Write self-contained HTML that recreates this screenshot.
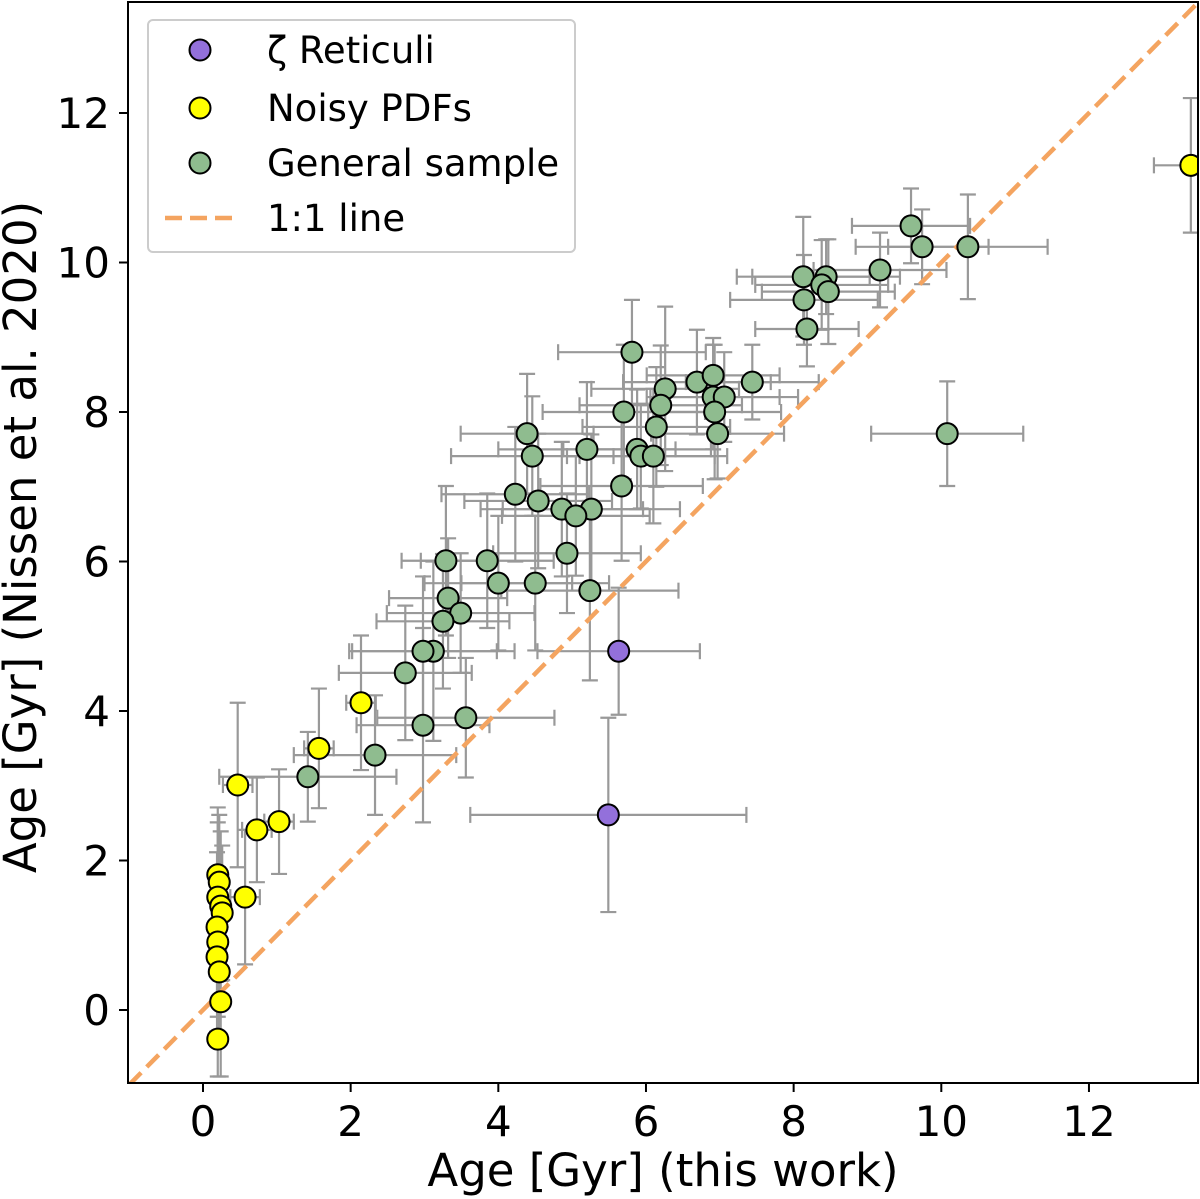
<!DOCTYPE html>
<html><head><meta charset="utf-8"><style>
body{margin:0;background:#fff}
svg{display:block;font-family:"DejaVu Sans","Liberation Sans",sans-serif}
</style></head><body>
<svg id="chart" width="1200" height="1199" viewBox="0 0 1200 1199"></svg>
<script>
const genX=[9.59,9.74,10.36,9.17,8.13,8.44,8.38,8.47,8.14,8.18,5.81,7.44,6.69,6.91,6.26,6.91,7.06,6.20,5.70,6.93,6.14,6.97,10.08,4.39,5.20,5.88,4.46,5.93,6.10,5.67,4.23,4.54,4.86,5.26,5.05,4.93,3.29,3.85,4.00,4.50,5.24,3.32,3.49,3.25,3.12,2.98,2.74,3.56,2.98,2.33,1.42];
const genY=[10.49,10.21,10.21,9.90,9.81,9.81,9.70,9.61,9.50,9.11,8.80,8.40,8.40,8.49,8.31,8.20,8.20,8.09,8.00,8.00,7.80,7.71,7.71,7.71,7.50,7.50,7.41,7.41,7.41,7.01,6.90,6.81,6.70,6.70,6.61,6.11,6.01,6.01,5.71,5.71,5.61,5.51,5.31,5.20,4.80,4.80,4.51,3.91,3.81,3.41,3.12];
const genXerr=[0.8,0.9,1.08,0.9,0.9,1.0,0.9,0.9,1.0,0.7,1.0,0.9,1.0,0.9,1.0,0.9,1.0,1.1,1.1,0.9,1.0,0.9,1.03,0.9,1.2,1.0,1.1,1.0,1.0,1.1,1.0,1.0,1.1,1.2,1.0,1.0,0.6,0.9,1.0,1.0,1.2,0.8,1.0,0.9,1.1,1.0,0.9,1.2,0.9,1.1,1.2];
const genYerr=[0.5,0.5,0.7,0.5,0.8,0.5,0.6,0.7,0.6,0.5,0.7,0.5,0.7,0.5,1.1,0.7,0.6,0.8,0.9,0.9,0.8,0.6,0.7,0.8,0.9,0.8,0.8,0.7,0.9,1.0,0.9,0.9,0.9,1.0,0.8,0.8,1.0,0.9,0.9,0.9,1.2,0.8,0.8,0.9,1.2,1.0,0.9,0.8,1.3,0.8,0.6];
const purX=[5.63,5.49], purY=[4.80,2.61], purXerr=[1.1,1.87], purYerr=[0.85,1.3];
const yelX=[13.38,2.14,1.57,0.47,1.03,0.73,0.57,0.20,0.22,0.20,0.24,0.26,0.19,0.20,0.19,0.22,0.24,0.20];
const yelY=[11.30,4.11,3.50,3.01,2.52,2.41,1.51,1.81,1.71,1.51,1.39,1.30,1.11,0.91,0.71,0.51,0.11,-0.39];
const yelXerr=[0.5,0.2,0.2,0.2,0.2,0.2,0.2,0.05,0.05,0.05,0.05,0.05,0.05,0.05,0.05,0.05,0.05,0.05];
const yelYerr=[0.9,0.9,0.8,1.1,0.7,0.7,0.9,0.9,0.9,1.0,1.0,0.9,1.0,1.0,1.0,0.9,1.0,0.5];
const xTicks=[0,2,4,6,8,10,12], yTicks=[0,2,4,6,8,10,12];
const L=128,R=1198,T=2,B=1083;
const X=v=>203+v*73.83, Y=v=>1010-v*74.75;
const svg=document.getElementById('chart'), NS='http://www.w3.org/2000/svg';
function mk(tag,attrs,parent){const e=document.createElementNS(NS,tag);for(const k in attrs)e.setAttribute(k,attrs[k]);(parent||svg).appendChild(e);return e;}
const defs=mk('defs',{});const cp=mk('clipPath',{id:'pc'},defs);mk('rect',{x:L,y:T,width:R-L,height:B-T},cp);
const plot=mk('g',{'clip-path':'url(#pc)'});


function errs(xs,ys,xe,ye,name){const g=mk('g',{stroke:'#999','stroke-width':2.2},plot);


xs.forEach((x,i)=>{const cx=X(x),cy=Y(ys[i]),x1=X(x-xe[i]),x2=X(x+xe[i]),y1=Y(ys[i]+ye[i]),y2=Y(ys[i]-ye[i]);
mk('line',{x1:x1,x2:x2,y1:cy,y2:cy},g);mk('line',{x1:cx,x2:cx,y1:y1,y2:y2},g);
[x1,x2].forEach(v=>mk('line',{x1:v,x2:v,y1:cy-8,y2:cy+8},g));[y1,y2].forEach(v=>mk('line',{x1:cx-8,x2:cx+8,y1:v,y2:v},g));});}
errs(genX,genY,genXerr,genYerr,'general');errs(purX,purY,purXerr,purYerr,'reticuli');errs(yelX,yelY,yelXerr,yelYerr,'noisy');
const dl=mk('line',{x1:X(-1),y1:Y(-1),x2:X(14),y2:Y(14),stroke:'#f4a460','stroke-width':4.5,'stroke-dasharray':'17 8'},plot);


function pts(xs,ys,col,name){xs.forEach((x,i)=>{const c=mk('circle',{cx:X(x),cy:Y(ys[i]),r:10.5,fill:col,stroke:'#000','stroke-width':2},plot);

});}
pts(genX,genY,'#8fbc8f','general');pts(purX,purY,'#9370db','reticuli');pts(yelX,yelY,'#ffff00','noisy');
mk('rect',{x:L,y:T,width:R-L,height:B-T,fill:'none',stroke:'#000','stroke-width':2});
xTicks.forEach(t=>{mk('line',{x1:X(t),x2:X(t),y1:B,y2:B+9,stroke:'#000','stroke-width':2});
const tx=mk('text',{x:X(t),y:1136,'font-size':42,'text-anchor':'middle'});tx.textContent=t;

});
yTicks.forEach(t=>{mk('line',{x1:L-9,x2:L,y1:Y(t),y2:Y(t),stroke:'#000','stroke-width':2});
const tx=mk('text',{x:110,y:Y(t)+15,'font-size':42,'text-anchor':'end'});tx.textContent=t;

});
</script>
<svg style="position:absolute;left:0;top:0" width="1200" height="1199" font-family="DejaVu Sans, Liberation Sans, sans-serif">
<text x="663" y="1186" font-size="45" text-anchor="middle">Age [Gyr] (this work)</text>
<text transform="translate(36,537) rotate(-90)" font-size="45" text-anchor="middle">Age [Gyr] (Nissen et al. 2020)</text>
<g>
<rect x="148" y="20" width="427" height="232" rx="5" fill="#fff" fill-opacity="0.85" stroke="#ccc" stroke-width="2"/>
<circle cx="200" cy="50" r="10.5" fill="#9370db" stroke="#000" stroke-width="2"/>
<text x="267" y="63" font-size="37">ζ Reticuli</text>
<circle cx="200" cy="108" r="10.5" fill="#ffff00" stroke="#000" stroke-width="2"/>
<text x="267" y="121" font-size="37">Noisy PDFs</text>
<circle cx="200" cy="163" r="10.5" fill="#8fbc8f" stroke="#000" stroke-width="2"/>
<text x="267" y="176" font-size="37">General sample</text>
<line x1="165" x2="235" y1="218" y2="218" stroke="#f4a460" stroke-width="4.5" stroke-dasharray="17 8"/>
<text x="267" y="231" font-size="37">1:1 line</text>
</g>
</svg>
</body></html>
